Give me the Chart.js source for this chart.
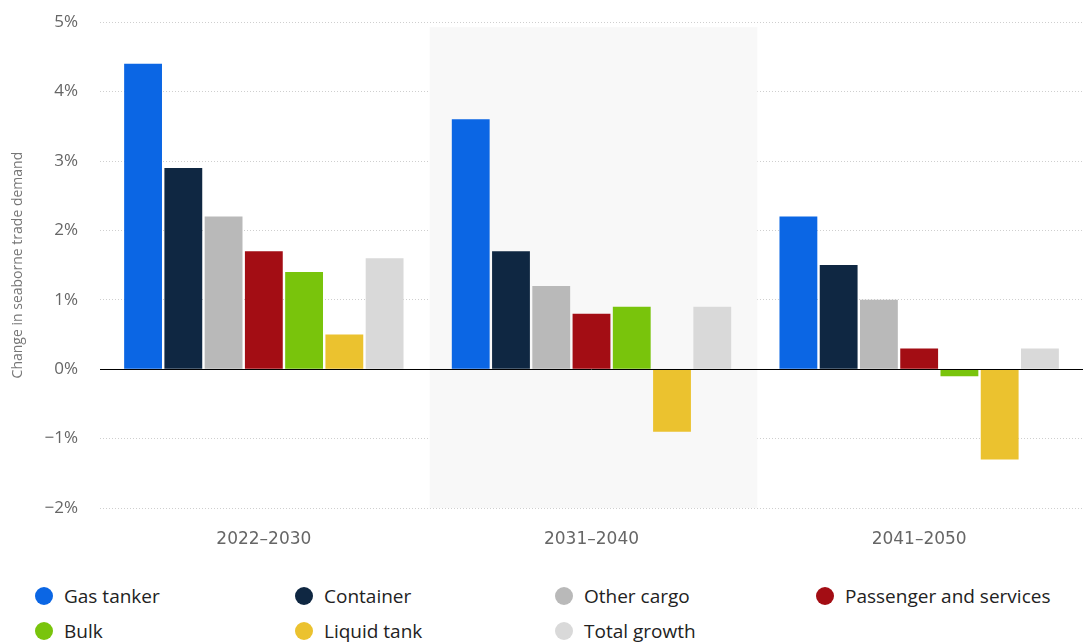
<!DOCTYPE html>
<html>
<head>
<meta charset="utf-8">
<script src="https://cdn.jsdelivr.net/npm/chart.js@4.4.1/dist/chart.umd.min.js"></script>
<style>
  html, body { margin: 0; padding: 0; background: #fff; }
  body { width: 1083px; height: 643px; overflow: hidden; font-family: "Open Sans", "Noto Sans", sans-serif; }
  #wrap { position: relative; width: 1083px; height: 560px; }
  #chart { position: absolute; left: 0; top: -10px; }
  #legend { position: relative; width: 1083px; height: 83px; }
  .item { position: absolute; display: flex; align-items: center; font-size: 19px; color: #222; }
  .dot { width: 18px; height: 18px; border-radius: 50%; margin-right: 11px; }
</style>
</head>
<body>
<div id="wrap"><canvas id="chart" width="1083" height="570"></canvas></div>
<div id="legend"></div>
<script>
// categories / series (values in %)
var periods = ['2022\u20132030', '2031\u20132040', '2041\u20132050'];
var seriesNames = ['Gas tanker', 'Container', 'Other cargo', 'Passenger and services', 'Bulk', 'Liquid tank', 'Total growth'];
var seriesColors = ['#0b66e4', '#0f2742', '#b9b9b9', '#a30d14', '#79c40c', '#ebc22f', '#d9d9d9'];

var gasTanker = [4.4, 3.6, 2.2];
var container = [2.9, 1.7, 1.5];
var otherCargo = [2.2, 1.2, 1.0];
var passenger = [1.7, 0.8, 0.3];
var bulk = [1.4, 0.9, -0.1];
var liquidTank = [0.5, -0.9, -1.3];
var totalGrowth = [1.6, 0.9, 0.3];

var yTicks = [-2, -1, 0, 1, 2, 3, 4, 5];

var seriesData = [gasTanker, container, otherCargo, passenger, bulk, liquidTank, totalGrowth];

// legend (HTML, 4 columns)
var legendPos = [[35, 23], [295, 23], [555, 23], [816, 23], [35, 58], [295, 58], [555, 58]];
var legend = document.getElementById('legend');
seriesNames.forEach(function (name, i) {
  var el = document.createElement('div');
  el.className = 'item';
  el.style.left = legendPos[i][0] + 'px';
  el.style.top = legendPos[i][1] + 'px';
  el.innerHTML = '<span class="dot" style="background:' + seriesColors[i] + '"></span>' + name;
  legend.appendChild(el);
});

// shaded middle category + zero line
var decor = {
  id: 'decor',
  beforeDatasetsDraw: function (chart) {
    var x = chart.scales.x, area = chart.chartArea, ctx = chart.ctx;
    var w = (area.right - area.left) / periods.length;
    var cx = x.getPixelForValue(1);
    ctx.save();
    ctx.fillStyle = '#f8f8f8';
    ctx.fillRect(cx - w / 2 + 2, area.top + 5, w, area.bottom - area.top - 5);
    ctx.restore();
  },
  afterDatasetsDraw: function (chart) {
    var y = chart.scales.y, area = chart.chartArea, ctx = chart.ctx;
    var py = Math.round(y.getPixelForValue(0)) + 0.5;
    ctx.save();
    ctx.strokeStyle = '#000';
    ctx.lineWidth = 1;
    ctx.beginPath();
    ctx.moveTo(area.left, py);
    ctx.lineTo(area.right, py);
    ctx.stroke();
    ctx.restore();
  }
};

new Chart(document.getElementById('chart'), {
  type: 'bar',
  data: {
    labels: periods,
    datasets: seriesNames.map(function (name, i) {
      return {
        label: name,
        data: seriesData[i],
        backgroundColor: seriesColors[i],
        barPercentage: 0.94,
        categoryPercentage: 0.86
      };
    })
  },
  options: {
    responsive: false,
    animation: false,
    layout: { padding: { top: 10, right: 0, left: 10, bottom: 0 } },
    plugins: { legend: { display: false }, tooltip: { enabled: false } },
    scales: {
      x: {
        grid: { display: false },
        border: { display: false },
        ticks: { color: '#666', font: { size: 17, family: '"DejaVu Sans", sans-serif' }, padding: 13 },
        afterFit: function (s) { s.height = 52; }
      },
      y: {
        min: -2,
        max: 5,
        afterBuildTicks: function (s) { s.ticks = yTicks.map(function (v) { return { value: v }; }); },
        grid: {
          color: function (c) { return c.tick && c.tick.value === 0 ? 'rgba(0,0,0,0)' : '#cfcfcf'; },
          drawTicks: false
        },
        border: { display: false, dash: [1, 2] },
        ticks: {
          color: '#666',
          font: { size: 17, family: '"Open Sans", sans-serif' },
          padding: 22,
          callback: function (v) { return (v < 0 ? '\u2212' + (-v) : v) + '%'; }
        },
        title: {
          display: true,
          text: 'Change in seaborne trade demand',
          color: '#777',
          font: { size: 14, family: '"Open Sans", sans-serif' },
          padding: { top: 0, bottom: 6 }
        },
        afterFit: function (s) { s.width = 90; }
      }
    }
  },
  plugins: [decor]
});
</script>
</body>
</html>
